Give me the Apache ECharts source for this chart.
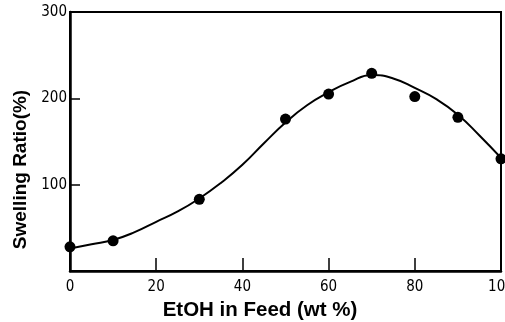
<!DOCTYPE html>
<html>
<head>
<meta charset="utf-8">
<script src="https://cdn.jsdelivr.net/npm/echarts@6/dist/echarts.min.js"></script>
<style>
  html, body { margin: 0; padding: 0; background: #fff; }
  #chart { width: 505px; height: 322px; }
</style>
</head>
<body>
<div id="chart"></div>
<script>
// measured points
var feedX = [0, 10, 30, 50, 60, 70, 80, 90, 100];
var swelling = [28, 35, 83, 176, 205, 229, 202, 178, 130];
// fitted curve
var curveX = [0, 5, 10, 15, 20, 25, 30, 35, 40, 45, 50, 55, 60, 65, 70, 75, 80, 85, 90, 95, 100];
var curveY = [26, 31, 36, 45, 57, 69, 84, 102, 123, 148, 172, 192, 207, 219, 227, 223, 212, 199, 181, 157, 131];

var myChart = echarts.init(document.getElementById('chart'));

var pts = feedX.map(function (x, i) { return [x, swelling[i]]; });
var curve = curveX.map(function (x, i) { return [x, curveY[i]]; });

var labelFont = 'Liberation Sans Narrow, DejaVu Sans Condensed, Liberation Sans, sans-serif';

var option = {
    animation: false,
    grid: {
        left: 70, right: 4, top: 12, bottom: 51,
        outerBoundsMode: 'none', containLabel: false,
        show: true, borderColor: '#000', borderWidth: 2
    },
    xAxis: {
        type: 'value', min: 0, max: 100, interval: 20,
        name: 'EtOH in Feed (wt %)',
        nameLocation: 'middle', nameGap: 27,
        nameTextStyle: { fontFamily: 'Liberation Sans', fontWeight: 'bold', fontSize: 20.5, color: '#000', padding: [0, 51, 0, 0] },
        axisLine: { lineStyle: { color: '#000', width: 2.5 } },
        axisTick: { inside: true, length: 13, lineStyle: { color: '#000', width: 1.5 } },
        axisLabel: { color: '#000', fontFamily: labelFont, fontSize: 15, margin: 9 },
        splitLine: { show: false }
    },
    yAxis: {
        type: 'value', min: 0, max: 300, interval: 100,
        name: 'Swelling Ratio(%)',
        nameLocation: 'middle', nameGap: 36,
        nameTextStyle: { fontFamily: 'Liberation Sans', fontWeight: 'bold', fontSize: 19, color: '#000', padding: [0, 56, 0, 0] },
        axisLine: { lineStyle: { color: '#000', width: 2.5 } },
        axisTick: { inside: true, length: 10, lineStyle: { color: '#000', width: 1.5 } },
        axisLabel: {
            color: '#000', fontFamily: labelFont, fontSize: 15, margin: 3,
            formatter: function (v) { return v === 0 ? '' : v; }
        },
        splitLine: { show: false }
    },
    series: [
        {
            type: 'line', data: curve, smooth: 0.5, showSymbol: false,
            lineStyle: { color: '#000', width: 2 }
        },
        {
            type: 'scatter', data: pts, symbolSize: 11,
            itemStyle: { color: '#000', opacity: 1 }
        }
    ]
};

myChart.setOption(option);
</script>
</body>
</html>
